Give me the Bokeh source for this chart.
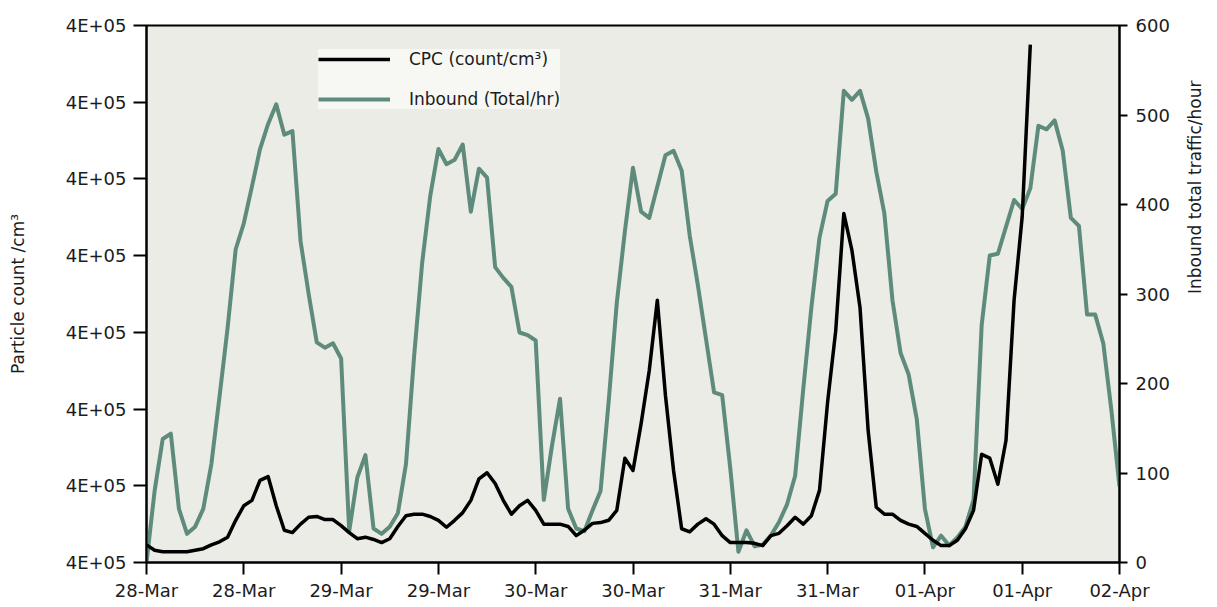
from math import pi

import pandas as pd
from bokeh.plotting import figure
from bokeh.models import (Range1d, LinearAxis, FixedTicker, DatetimeTickFormatter,
                          Legend, LegendItem, ColumnDataSource)
from bokeh.embed import file_html
from bokeh.resources import INLINE

# Hourly readings starting 28 March, 00:00
start = pd.Timestamp("2009-03-28 00:00")

# Inbound traffic, vehicles per hour (right axis)
inbound_total_hr = [
    0, 80, 138, 144, 60, 32, 40, 60, 110, 185,
    262, 350, 379, 420, 462, 490, 512, 478, 482, 359,
    300, 246, 240, 245, 228, 35, 95, 120, 38, 32,
    40, 55, 110, 230, 335, 410, 462, 445, 450, 467,
    392, 440, 430, 330, 318, 308, 257, 254, 248, 70,
    130, 183, 60, 38, 35, 58, 80, 180, 290, 370,
    441, 392, 385, 420, 455, 460, 438, 365, 310, 250,
    190, 187, 105, 12, 36, 18, 20, 30, 45, 65,
    97, 194, 285, 363, 404, 412, 527, 517, 527, 496,
    437, 390, 293, 234, 210, 160, 60, 17, 30, 19,
    28, 40, 70, 265, 343, 345, 375, 405, 395, 418,
    488, 484, 494, 460, 385, 376, 277, 277, 245, 170,
    85,
]

# CPC particle count, count/cm3 (left axis); the record stops on 1 April
cpc_count_cm3 = [
    352300, 351600, 351400, 351400, 351400, 351400, 351600, 351800, 352300, 352700,
    353300, 355500, 357400, 358100, 360700, 361200, 357400, 354200, 353900, 355000,
    355900, 356000, 355600, 355600, 354800, 353900, 353100, 353300, 353000, 352600,
    353100, 354700, 356100, 356300, 356300, 356000, 355500, 354600, 355500, 356500,
    358100, 360900, 361700, 360300, 358100, 356300, 357400, 358100, 356800, 355000,
    355000, 355000, 354700, 353500, 354200, 355100, 355200, 355500, 356800, 363600,
    362000, 368100, 375000, 384200, 371800, 362000, 354400, 354000, 355000, 355700,
    355000, 353500, 352600, 352600, 352600, 352500, 352200, 353500, 353800, 354800,
    355900, 355000, 356100, 359400, 370900, 380200, 395500, 390700, 383200, 367200,
    357200, 356300, 356300, 355500, 355000, 354700, 353800, 352900, 352200, 352200,
    352900, 354400, 356800, 364100, 363600, 360200, 365900, 384200, 395100, 417500,
]

left_ticks = [350000, 360000, 370000, 380000, 390000, 400000, 410000, 420000]
right_ticks = [0, 100, 200, 300, 400, 500, 600]
x_tick_step_hours = 12
n_x_ticks = 11

times_inbound = [start + pd.Timedelta(hours=h) for h in range(len(inbound_total_hr))]
times_cpc = [start + pd.Timedelta(hours=h) for h in range(len(cpc_count_cm3))]
end = start + pd.Timedelta(hours=x_tick_step_hours * (n_x_ticks - 1))

src_in = ColumnDataSource(dict(t=times_inbound, v=inbound_total_hr))
src_cpc = ColumnDataSource(dict(t=times_cpc, v=cpc_count_cm3))

FONT = "DejaVu Sans"
TXT = "#1c1c1c"

p = figure(width=1217, height=607, output_backend="svg", toolbar_location=None,
           x_axis_type="datetime",
           x_range=Range1d(start, end),
           y_range=Range1d(left_ticks[0], left_ticks[-1]),
           min_border_left=146, min_border_right=98,
           min_border_top=25, min_border_bottom=45)

p.extra_y_ranges = {"traffic": Range1d(right_ticks[0], right_ticks[-1])}

p.background_fill_color = "#eaece5"
p.border_fill_color = "white"
p.outline_line_color = "black"
p.outline_line_width = 2
p.xgrid.visible = False
p.ygrid.visible = False

# Traffic on the right axis, particle counts on the left
r_in = p.line("t", "v", source=src_in, y_range_name="traffic",
              line_color="#5f8b7d", line_width=4, line_join="round")
r_cpc = p.line("t", "v", source=src_cpc,
               line_color="black", line_width=3.5, line_join="round")

# Left axis: Excel-style scientific labels
yax = p.yaxis[0]
yax.ticker = FixedTicker(ticks=left_ticks)
yax.major_label_overrides = {t: f"{t:.0E}" for t in left_ticks}
yax.axis_label = "Particle count /cm³"
yax.axis_label_standoff = 35

# Right axis, title reading upwards
rax = LinearAxis(y_range_name="traffic", ticker=FixedTicker(ticks=right_ticks))
rax.axis_label = "Inbound total traffic/hour"
rax.axis_label_orientation = pi / 2
rax.axis_label_standoff = 22
p.add_layout(rax, "right")

# Bottom axis: a tick every 12 hours, labelled day-month
xax = p.xaxis[0]
x_ticks = [(start + pd.Timedelta(hours=x_tick_step_hours * k)).timestamp() * 1000
           for k in range(n_x_ticks)]
xax.ticker = FixedTicker(ticks=x_ticks)
fmt = "%d-%b"
xax.formatter = DatetimeTickFormatter(
    microseconds=fmt, milliseconds=fmt, seconds=fmt, minsec=fmt, minutes=fmt,
    hourmin=fmt, hours=fmt, days=fmt, months=fmt, years=fmt)

for ax in (xax, yax, rax):
    ax.axis_line_color = "black"
    ax.axis_line_width = 2
    ax.major_tick_line_color = "black"
    ax.major_tick_line_width = 2
    ax.major_tick_in = 0
    ax.minor_tick_line_color = None
    ax.major_label_text_font = FONT
    ax.major_label_text_font_size = "18px"
    ax.major_label_text_color = TXT
    ax.axis_label_text_font = FONT
    ax.axis_label_text_font_size = "17px"
    ax.axis_label_text_font_style = "normal"
    ax.axis_label_text_color = TXT

yax.major_tick_out = 13
yax.major_label_standoff = 7
rax.major_tick_out = 8
rax.major_label_standoff = 8
xax.major_tick_out = 12
xax.major_label_standoff = 5

legend = Legend(items=[LegendItem(label="CPC (count/cm³)", renderers=[r_cpc]),
                       LegendItem(label="Inbound (Total/hr)", renderers=[r_in])],
                location=(172, 453))
legend.background_fill_color = "#f7f8f4"
legend.background_fill_alpha = 1
legend.border_line_color = None
legend.label_text_font = FONT
legend.label_text_font_size = "17px"
legend.label_text_color = TXT
legend.glyph_width = 72
legend.glyph_height = 20
legend.label_height = 20
legend.label_standoff = 19
legend.padding = 16
legend.spacing = 20
legend.margin = 0
p.add_layout(legend, "center")

open("out.html", "w").write(file_html(p, INLINE))
